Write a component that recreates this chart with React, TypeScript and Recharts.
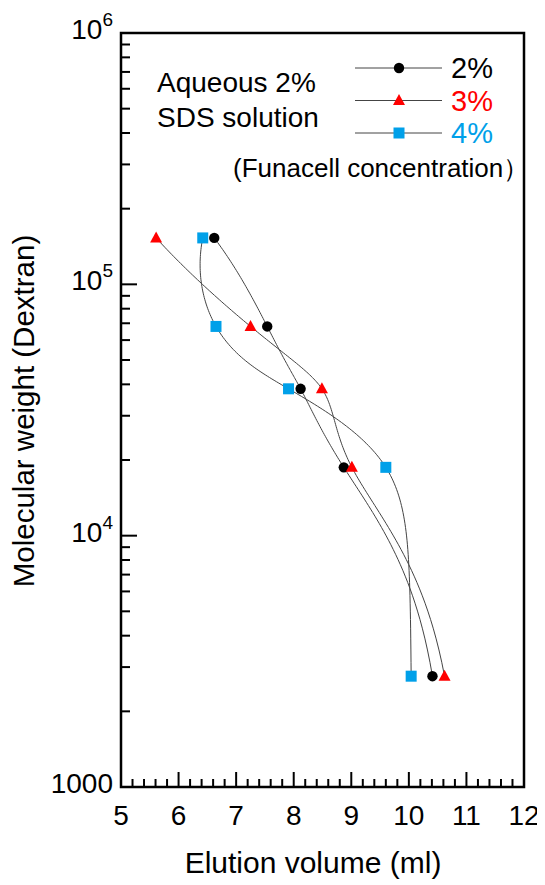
import React from 'react';
import {LineChart, Line, XAxis, YAxis, ReferenceArea, Customized} from 'recharts';

// Dextran standards (molecular weight) and their elution volumes (ml)
const molecularWeights = [153000, 68000, 38400, 18700, 2760];
const elution2 = [6.62, 7.54, 8.12, 8.87, 10.41];
const elution3 = [5.61, 7.25, 8.49, 9.01, 10.62];
const elution4 = [6.42, 6.65, 7.91, 9.6, 10.04];

const seriesNames = ['2%', '3%', '4%'];
const seriesColors = ['#000000', '#ff0000', '#00a0e9'];
const seriesShapes = ['circle', 'triangle', 'square'];
const seriesElution = [elution2, elution3, elution4];

const xMajorTicks = [5, 6, 7, 8, 9, 10, 11, 12];
const xMinorSteps = [0.2, 0.4, 0.6, 0.8];
const yDecades = [1000, 10000, 100000, 1000000];
const yDecadeExp = ['', '4', '5', '6'];
const yMinorFactors = [2, 3, 4, 5, 6, 7, 8, 9];

const FONT = '"Liberation Sans", Arial, Helvetica, sans-serif';

const WIDTH = 537;
const HEIGHT = 877;
const MARGIN = {top: 25, right: 21, left: 53, bottom: 38};
const X_AXIS_H = 60;
const Y_AXIS_W = 60;
const PLOT_H = HEIGHT - MARGIN.top - MARGIN.bottom - X_AXIS_H;
const PX_PER_DECADE = PLOT_H / Math.log10(yDecades[yDecades.length - 1] / yDecades[0]);

const xTicks = xMajorTicks.flatMap((t) =>
    t < 12 ? [t, ...xMinorSteps.map((s) => Math.round((t + s) * 10) / 10)] : [t]
);
const yTicks = yDecades.flatMap((d) =>
    d < 1000000 ? [d, ...yMinorFactors.map((f) => d * f)] : [d]
);

const series = seriesNames.map((name, i) => ({
    name,
    color: seriesColors[i],
    shape: seriesShapes[i],
    data: seriesElution[i].map((v, j) => ({v, mw: molecularWeights[j]})),
}));

// cubic spline second derivatives on uniform knots:
// not-a-knot at the start, natural at the end
function splineM(vals: number[]) {
    const n = vals.length;
    if (n < 3) return new Array(n).fill(0);
    const A: number[][] = [];
    const r: number[] = [];
    for (let i = 0; i < n; i++) {
        const row = new Array(n).fill(0);
        if (i === 0 && n >= 4) {
            row[0] = 1;
            row[1] = -2;
            row[2] = 1;
            r.push(0);
        } else if (i === 0 || i === n - 1) {
            row[i] = 1;
            r.push(0);
        } else {
            row[i - 1] = 1;
            row[i] = 4;
            row[i + 1] = 1;
            r.push(6 * (vals[i + 1] - 2 * vals[i] + vals[i - 1]));
        }
        A.push(row);
    }
    for (let c = 0; c < n; c++) {
        let p = c;
        for (let k = c + 1; k < n; k++) if (Math.abs(A[k][c]) > Math.abs(A[p][c])) p = k;
        [A[c], A[p]] = [A[p], A[c]];
        [r[c], r[p]] = [r[p], r[c]];
        for (let k = c + 1; k < n; k++) {
            const w = A[k][c] / A[c][c];
            for (let j = c; j < n; j++) A[k][j] -= w * A[c][j];
            r[k] -= w * r[c];
        }
    }
    const M = new Array(n).fill(0);
    for (let i = n - 1; i >= 0; i--) {
        let s = r[i];
        for (let j = i + 1; j < n; j++) s -= A[i][j] * M[j];
        M[i] = s / A[i][i];
    }
    return M;
}

// smooth curve drawn as a parametric spline in linear molecular-weight space,
// then mapped back onto the log axis
function linearSpaceSpline(context: any) {
    let xs: number[] = [];
    let ys: number[] = [];
    return {
        areaStart() {},
        areaEnd() {},
        lineStart() {
            xs = [];
            ys = [];
        },
        point(x: number, y: number) {
            xs.push(+x);
            ys.push(+y);
        },
        lineEnd() {
            if (!xs.length) return;
            const y0 = ys[0];
            const us = ys.map((y) => Math.pow(10, -(y - y0) / PX_PER_DECADE));
            const Mx = splineM(xs);
            const Mu = splineM(us);
            context.moveTo(xs[0], ys[0]);
            const steps = 40;
            for (let i = 0; i < xs.length - 1; i++) {
                for (let k = 1; k <= steps; k++) {
                    const t = k / steps;
                    const s = 1 - t;
                    const x = s * xs[i] + t * xs[i + 1] + ((s * s * s - s) * Mx[i] + (t * t * t - t) * Mx[i + 1]) / 6;
                    let u = s * us[i] + t * us[i + 1] + ((s * s * s - s) * Mu[i] + (t * t * t - t) * Mu[i + 1]) / 6;
                    u = Math.max(u, 1e-6);
                    context.lineTo(x, y0 - PX_PER_DECADE * Math.log10(u));
                }
            }
        },
    };
}

function Marker({shape, color, cx, cy}: {shape: string; color: string; cx: number; cy: number}) {
    if (shape === 'circle') return <circle cx={cx} cy={cy} r={5.2} fill={color} />;
    if (shape === 'triangle')
        return <polygon points={`${cx},${cy - 6.5} ${cx + 6},${cy + 4.5} ${cx - 6},${cy + 4.5}`} fill={color} />;
    return <rect x={cx - 5.5} y={cy - 5.5} width={11} height={11} fill={color} />;
}

function XTick({x, y, payload}: any) {
    const v = payload.value;
    const major = xMajorTicks.includes(v);
    return (
        <g>
            <line x1={x} x2={x} y1={y} y2={y - (major ? 15 : 8)} stroke="#000" strokeWidth={2} />
            {major && (
                <text x={x} y={y + 38} textAnchor="middle" fontSize={28} fontFamily={FONT} fill="#000">
                    {v}
                </text>
            )}
        </g>
    );
}

function YTick({x, y, payload}: any) {
    const v = payload.value;
    const idx = yDecades.indexOf(v);
    const major = idx >= 0;
    return (
        <g>
            <line x1={x} x2={x + (major ? 16 : 9)} y1={y} y2={y} stroke="#000" strokeWidth={2} />
            {major && (
                <text x={x - 8} y={y + 6} textAnchor="end" fontSize={28} fontFamily={FONT} fill="#000">
                    {yDecadeExp[idx] ? '10' : String(v)}
                    {yDecadeExp[idx] && (
                        <tspan dy={-13} fontSize={19}>
                            {yDecadeExp[idx]}
                        </tspan>
                    )}
                </text>
            )}
        </g>
    );
}

function Annotations() {
    return (
        <g fontFamily={FONT}>
            <text x={305} y={865} textAnchor="middle" fontSize={30} fill="#000">
                Elution volume (ml)
            </text>
            <text transform="translate(26,403) rotate(-90)" textAnchor="middle" fontSize={29.5} fill="#000">
                Molecular weight (Dextran)
            </text>
            <text x={149} y={84} fontSize={28} fill="#000">Aqueous 2%</text>
            <text x={149} y={119} fontSize={28} fill="#000">SDS solution</text>
            {series.map((s, i) => {
                const ly = 60 + i * 32.5;
                return (
                    <g key={s.name}>
                        <line x1={347} x2={434} y1={ly} y2={ly} stroke="#444" strokeWidth={1} />
                        <Marker shape={s.shape} color={s.color} cx={391} cy={ly} />
                        <text x={443} y={ly + 10} fontSize={29} fill={s.color}>{s.name}</text>
                    </g>
                );
            })}
            <text x={225} y={169} fontSize={26} fill="#000">
                (Funacell concentration）
            </text>
        </g>
    );
}

export default function App() {
    return (
        <LineChart width={WIDTH} height={HEIGHT} margin={MARGIN} style={{fontFamily: FONT}}>
            <XAxis
                dataKey="v"
                type="number"
                domain={[5, 12]}
                ticks={xTicks}
                interval={0}
                height={X_AXIS_H}
                tickSize={0}
                tickMargin={0}
                axisLine={false}
                tickLine={false}
                tick={<XTick />}
                allowDataOverflow
            />
            <YAxis
                dataKey="mw"
                type="number"
                scale="log"
                domain={[1000, 1000000]}
                ticks={yTicks}
                interval={0}
                width={Y_AXIS_W}
                tickSize={0}
                tickMargin={0}
                axisLine={false}
                tickLine={false}
                tick={<YTick />}
                allowDataOverflow
            />
            <ReferenceArea
                x1={5}
                x2={12}
                y1={1000}
                y2={1000000}
                fill="none"
                stroke="#000"
                strokeWidth={2.5}
                ifOverflow="visible"
            />
            {series.map((s) => (
                <Line
                    key={s.name}
                    data={s.data}
                    dataKey="mw"
                    name={s.name}
                    type={linearSpaceSpline as any}
                    stroke="#444"
                    strokeWidth={1}
                    isAnimationActive={false}
                    dot={(p: any) => <Marker key={p.index} shape={s.shape} color={s.color} cx={p.cx} cy={p.cy} />}
                    activeDot={false}
                />
            ))}
            <Customized component={<Annotations />} />
        </LineChart>
    );
}
